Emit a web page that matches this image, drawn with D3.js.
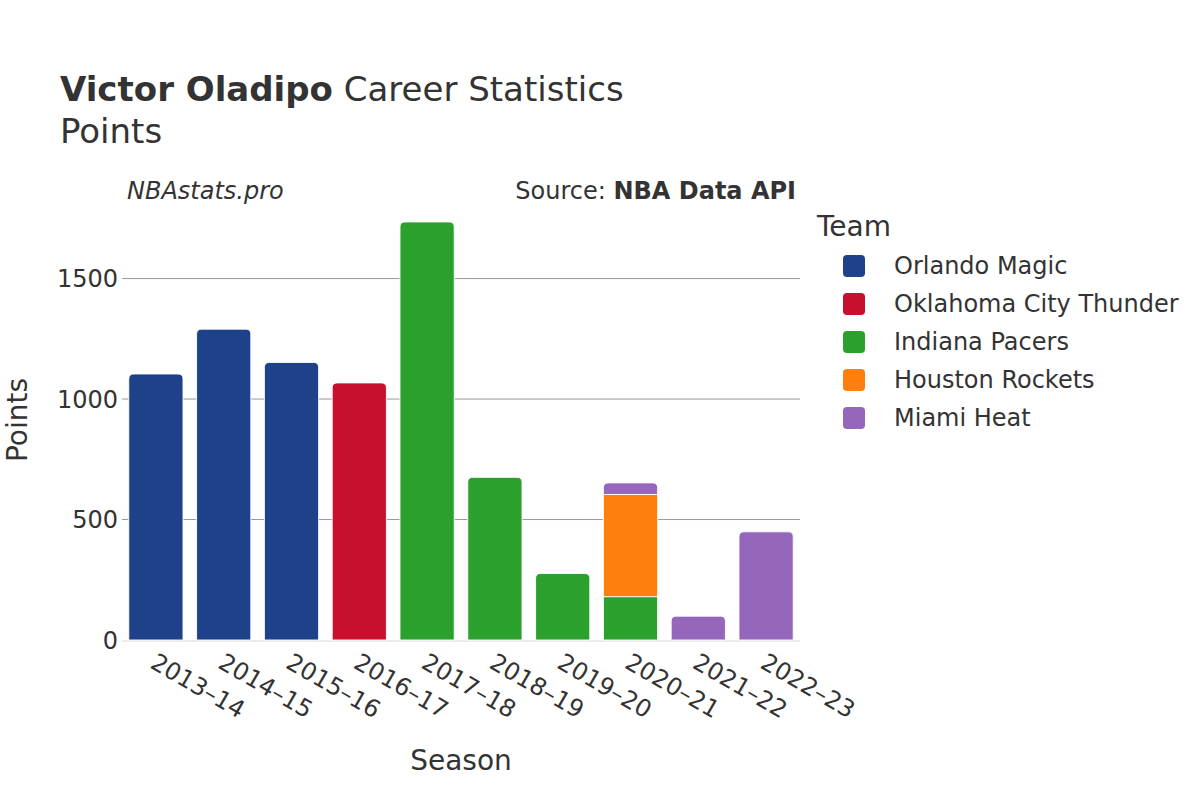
<!DOCTYPE html>
<html><head><meta charset="utf-8">
<script src="https://cdn.jsdelivr.net/npm/d3@7"></script>
<style>body{margin:0;background:#fff}svg{font-family:"DejaVu Sans",sans-serif}</style>
</head><body><svg id="c" width="1200" height="800"></svg>
<script>
const seasons = ["2013–14","2014–15","2015–16","2016–17","2017–18","2018–19","2019–20","2020–21","2021–22","2022–23"];
const teams = ["Orlando Magic","Oklahoma City Thunder","Indiana Pacers","Houston Rockets","Miami Heat"];
const teamColors = ["#1d428a","#c8102e","#2ca02c","#ff7f0e","#9467bd"];
const orlando = [1104,1290,1152,0,0,0,0,0,0,0];
const okc     = [0,0,0,1067,0,0,0,0,0,0];
const indiana = [0,0,0,0,1735,675,276,180,0,0];
const houston = [0,0,0,0,0,0,0,424,0,0];
const miami   = [0,0,0,0,0,0,0,48,99,449];
const yTicks = [0,500,1000,1500];

const series = [orlando, okc, indiana, houston, miami];
const svg = d3.select("#c");
const x = d3.scaleBand().domain(seasons).range([122,800]).paddingInner(0.2).paddingOuter(0.1);
const y = d3.scaleLinear().domain([0,1826]).range([640,200]);
const txt = "#333";

// gridlines
svg.append("g").selectAll("line").data(yTicks.filter(d=>d>0)).join("line")
  .attr("x1",122).attr("x2",800).attr("y1",d=>y(d)).attr("y2",d=>y(d))
  .attr("stroke","#999").attr("stroke-width",1);
svg.append("line").attr("x1",122).attr("x2",800).attr("y1",y(0)+1).attr("y2",y(0)+1)
  .attr("stroke","#ebebeb").attr("stroke-width",2);

// stacked bars
const rows = seasons.map((s,i)=>{const o={season:s}; teams.forEach((t,k)=>o[t]=series[k][i]); return o;});
const stack = d3.stack().keys(teams)(rows);
const r = 5;
function barPath(x0,w,y0,y1,round){
  if(y0-y1<=0) return "";
  if(!round) return `M${x0},${y0}V${y1}H${x0+w}V${y0}Z`;
  const rr=Math.min(r,(y0-y1));
  return `M${x0},${y0}V${y1+rr}Q${x0},${y1} ${x0+rr},${y1}H${x0+w-rr}Q${x0+w},${y1} ${x0+w},${y1+rr}V${y0}Z`;
}
stack.forEach((layer,k)=>{
  svg.append("g").selectAll("path").data(layer).join("path")
    .attr("d",(d,i)=>{
      const top = d3.max(stack, l=>l[i][1]);
      return barPath(x(seasons[i]), x.bandwidth(), y(d[0]), y(d[1]), d[1]===top);
    })
    .attr("fill",teamColors[k]).attr("stroke","#fff").attr("stroke-width",(d)=>d[1]-d[0]>0?1:0)
    .attr("stroke-opacity",0.9);
});

// y axis
const ya = svg.append("g").attr("transform","translate(118,0)")
  .call(d3.axisLeft(y).tickValues(yTicks).tickSize(0).tickPadding(0).tickFormat(d3.format("d")));
ya.select(".domain").remove();
ya.selectAll("text").attr("fill",txt).attr("font-size",24).attr("font-family","DejaVu Sans").attr("dy","0.35em");

// x axis
const xa = svg.append("g").attr("transform","translate(0,650)")
  .call(d3.axisBottom(x).tickSize(0).tickPadding(0));
xa.select(".domain").remove();
xa.selectAll("text").attr("fill",txt).attr("font-size",24).attr("font-family","DejaVu Sans")
  .attr("text-anchor","start").attr("x",0).attr("y",0).attr("dy",0)
  .attr("transform","translate(-7,17) rotate(30)");

// titles
const t = svg.append("text").attr("x",60).attr("y",101).attr("font-size",34).attr("fill",txt);
t.append("tspan").attr("font-weight","bold").text("Victor Oladipo");
t.append("tspan").text(" Career Statistics");
svg.append("text").attr("x",60).attr("y",143).attr("font-size",34).attr("fill",txt).text("Points");
svg.append("text").attr("x",127).attr("y",199).attr("font-size",24).attr("font-style","italic").attr("fill",txt).text("NBAstats.pro");
const s = svg.append("text").attr("x",796).attr("y",199).attr("font-size",24).attr("text-anchor","end").attr("fill",txt);
s.append("tspan").text("Source: ");
s.append("tspan").attr("font-weight","bold").text("NBA Data API");

svg.append("text").attr("x",461).attr("y",770).attr("font-size",28).attr("text-anchor","middle").attr("fill",txt).text("Season");
svg.append("text").attr("transform","translate(27,420) rotate(-90)").attr("font-size",28).attr("text-anchor","middle").attr("fill",txt).text("Points");

// legend
svg.append("text").attr("x",817).attr("y",236).attr("font-size",28).attr("fill",txt).text("Team");
const lg = svg.append("g").selectAll("g").data(teams).join("g")
  .attr("transform",(d,i)=>`translate(843,${266+i*38})`);
lg.append("rect").attr("x",0).attr("y",-11).attr("width",22).attr("height",22).attr("rx",4).attr("fill",(d,i)=>teamColors[i]);
lg.append("text").attr("x",51).attr("dy","0.35em").attr("font-size",24).attr("fill",txt).text(d=>d);
</script></body></html>
